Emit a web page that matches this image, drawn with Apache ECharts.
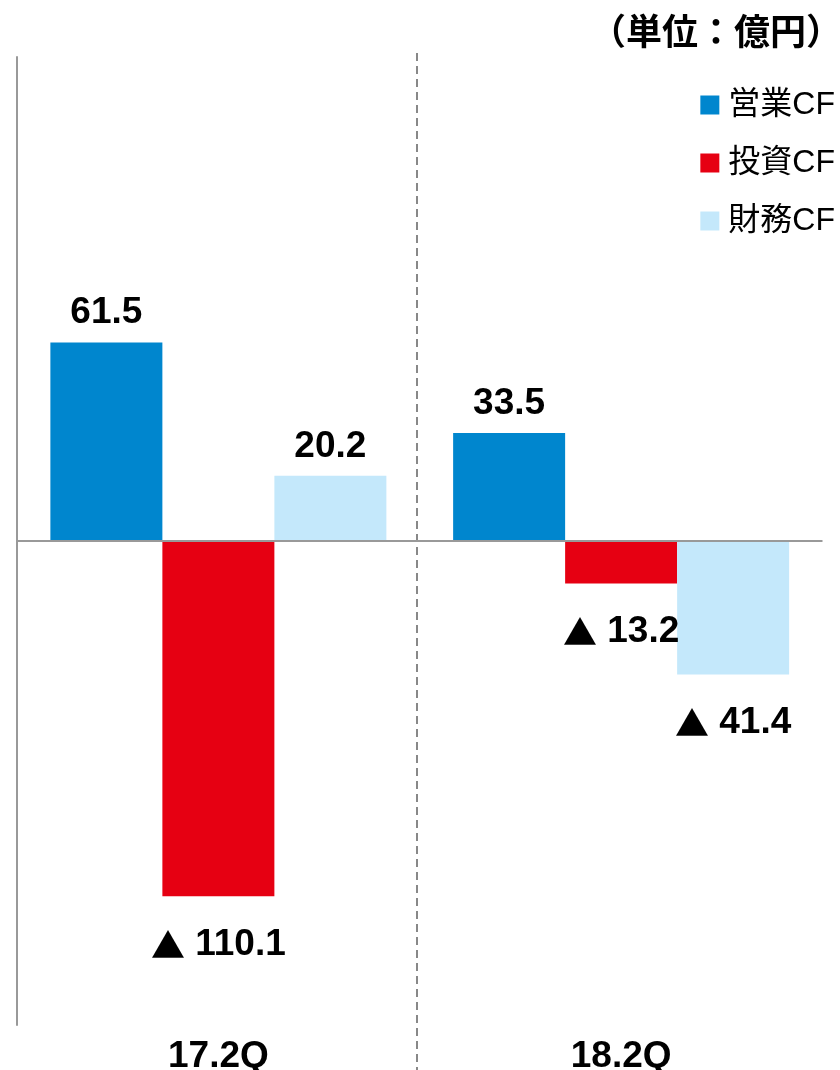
<!DOCTYPE html>
<html>
<head>
<meta charset="utf-8">
<script src="https://cdn.jsdelivr.net/npm/echarts@6/dist/echarts.min.js"></script>
<style>
html,body{margin:0;padding:0;background:#fff;}
#chart{width:840px;height:1070px;}
</style>
</head>
<body>
<div id="chart"></div>
<script>
const categories = ['17.2Q', '18.2Q'];
const seriesNames = ['営業CF', '投資CF', '財務CF'];
const operatingCF = [61.5, 33.5];
const investingCF = [-110.1, -13.2];
const financingCF = [20.2, -41.4];
const colors = ['#0086CE', '#E60012', '#C4E8FB'];
const unitLabel = '（単位：億円）';

const FONT = "'Liberation Sans', Arial, 'Noto Sans CJK JP', sans-serif";

function fmt(v) {
  return v < 0 ? '{t|▲} ' + Math.abs(v).toFixed(1) : v.toFixed(1);
}
function toItems(arr) {
  return arr.map(v => ({
    value: v,
    label: {
      position: v < 0 ? 'bottom' : 'top',
      distance: v < 0 ? 30 : 11
    }
  }));
}
const labelStyle = {
  show: true,
  fontFamily: FONT,
  fontSize: 37,
  fontWeight: 'bold',
  color: '#000',
  formatter: p => fmt(p.value),
  rich: {
    t: { fontFamily: "'Noto Sans CJK JP', sans-serif", fontSize: 34, color: '#000' }
  }
};

const chart = echarts.init(document.getElementById('chart'));
chart.setOption({
  animation: false,
  backgroundColor: '#fff',
  title: {
    text: unitLabel,
    right: -7,
    top: 12,
    textStyle: { fontFamily: FONT, fontSize: 36, fontWeight: 'bold', color: '#000' }
  },
  legend: {
    orient: 'vertical',
    right: 0,
    top: 84,
    itemWidth: 19,
    itemHeight: 19,
    itemGap: 26,
    icon: 'rect',
    data: seriesNames,
    textStyle: { fontFamily: FONT, fontSize: 32, lineHeight: 32, color: '#000', padding: [0, 0, 0, 4] }
  },
  grid: [
    { left: 17, right: 17.5, top: 57, bottom: 45, containLabel: false, outerBoundsMode: 'none' },
    { left: 17, right: 23.6, top: 53, bottom: 0, containLabel: false, outerBoundsMode: 'none' }
  ],
  xAxis: [
    {
      type: 'category',
      gridIndex: 0,
      data: categories,
      position: 'bottom',
      axisLine: { show: false, onZero: false },
      axisTick: { show: false },
      axisLabel: { fontFamily: FONT, fontSize: 37, fontWeight: 'bold', color: '#000', margin: 13 },
      splitLine: { show: false }
    },
    {
      type: 'category',
      gridIndex: 1,
      data: categories,
      axisLine: { show: false },
      axisTick: { show: false },
      axisLabel: { show: false },
      splitLine: {
        show: true,
        showMinLine: false,
        showMaxLine: false,
        lineStyle: { color: '#888', width: 2, type: [8, 5] }
      }
    }
  ],
  yAxis: [
    {
      type: 'value',
      gridIndex: 0,
      min: -150,
      max: 150,
      interval: 150,
      axisLine: { show: true, onZero: false, lineStyle: { color: '#999', width: 2 } },
      axisTick: { show: false },
      axisLabel: { show: false },
      splitLine: { show: false }
    },
    {
      type: 'value',
      gridIndex: 1,
      show: false,
      splitLine: { show: false }
    }
  ],
  series: [
    {
      name: seriesNames[0],
      type: 'bar',
      xAxisIndex: 0, yAxisIndex: 0,
      barWidth: 112,
      barGap: '0%',
      itemStyle: { color: colors[0] },
      label: labelStyle,
      data: toItems(operatingCF),
      markLine: {
        silent: true,
        symbol: 'none',
        label: { show: false },
        lineStyle: { color: '#999', width: 2, type: 'solid' },
        data: [{ yAxis: 0 }]
      }
    },
    {
      name: seriesNames[1],
      type: 'bar',
      xAxisIndex: 0, yAxisIndex: 0,
      barWidth: 112,
      barGap: '0%',
      itemStyle: { color: colors[1] },
      label: labelStyle,
      data: toItems(investingCF)
    },
    {
      name: seriesNames[2],
      type: 'bar',
      xAxisIndex: 0, yAxisIndex: 0,
      barWidth: 112,
      barGap: '0%',
      itemStyle: { color: colors[2] },
      label: labelStyle,
      data: toItems(financingCF)
    }
  ]
});
</script>
</body>
</html>
